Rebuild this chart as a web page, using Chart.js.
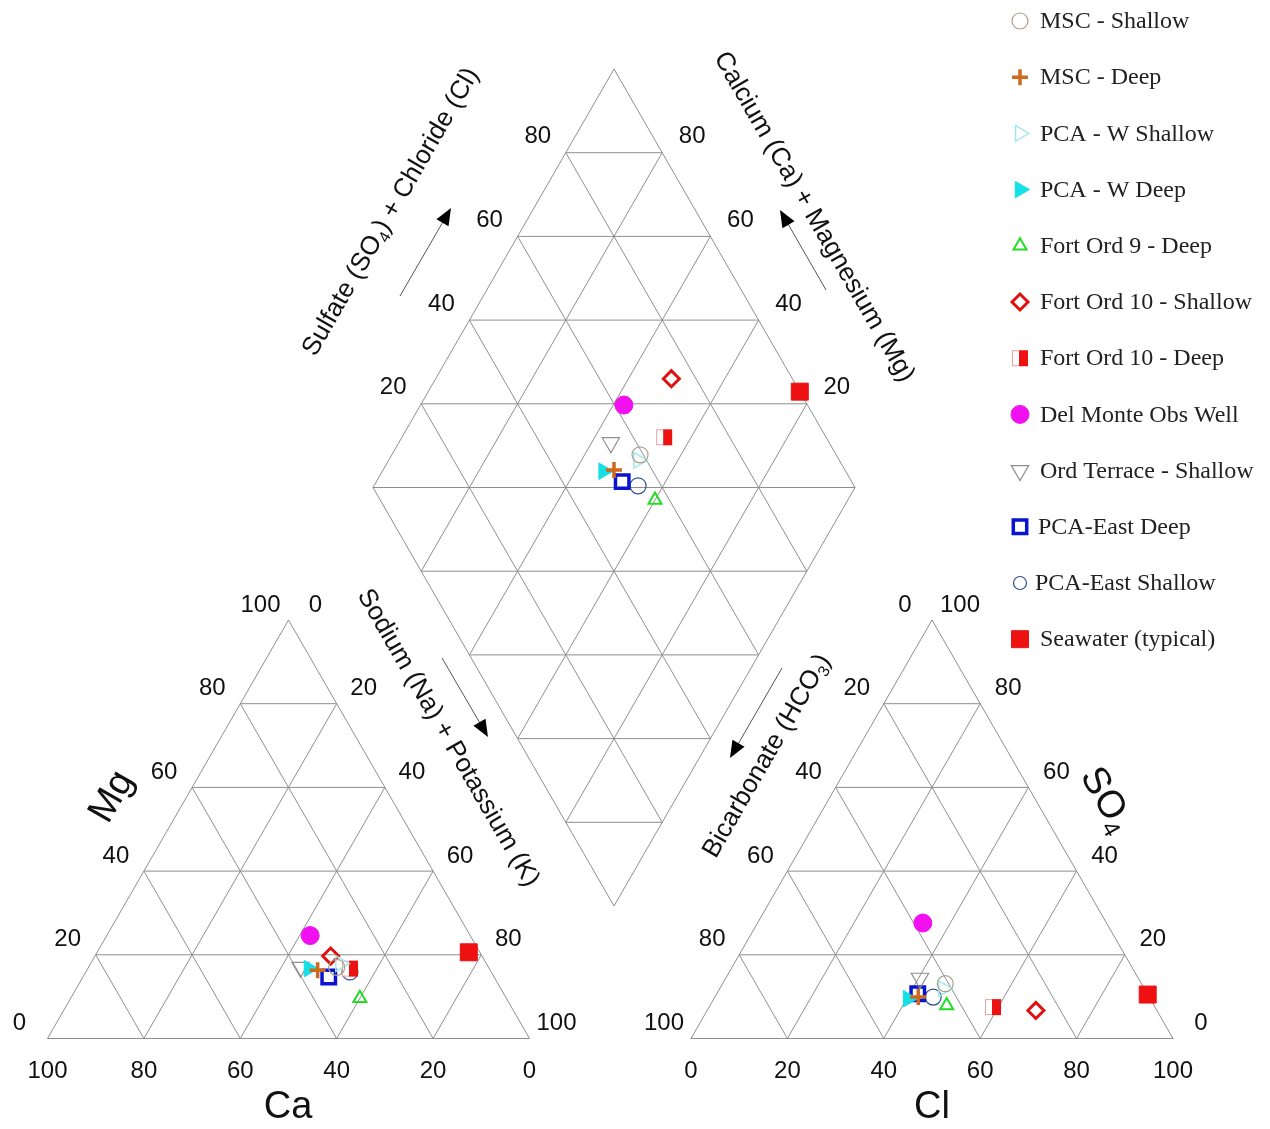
<!DOCTYPE html>
<html>
<head>
<meta charset="utf-8">
<title>Piper diagram</title>
<script src="https://cdn.jsdelivr.net/npm/chart.js@4.4.0/dist/chart.umd.min.js"></script>
<style>
  html, body { margin: 0; padding: 0; background: #fff; overflow: hidden; }
  canvas { display: block; }
</style>
</head>
<body>
<canvas id="piperChart" width="1270" height="1129"></canvas>
<script>
// samples, in legend order
const seriesNames = ['MSC - Shallow', 'MSC - Deep', 'PCA - W Shallow', 'PCA - W Deep',
    'Fort Ord 9 - Deep', 'Fort Ord 10 - Shallow', 'Fort Ord 10 - Deep', 'Del Monte Obs Well',
    'Ord Terrace - Shallow', 'PCA-East Deep', 'PCA-East Shallow', 'Seawater (typical)'];

// cations, % meq
const caPct   = [31.5, 35.8, 30.3, 37.4, 30.4, 31.4, 28.9, 33.2, 39.0, 34.3, 29.3,  2.3];
const mgPct   = [17.0, 16.3, 17.9, 16.7,  9.6, 19.7, 16.7, 24.6, 17.0, 14.7, 15.9, 20.6];
const naKPct  = [51.5, 47.9, 51.8, 45.9, 60.0, 48.9, 54.4, 42.2, 44.0, 51.0, 54.8, 77.1];
// anions, % meq
const hco3Pct = [40.7, 47.9, 41.7, 50.2, 43.0, 25.1, 33.6, 38.1, 45.3, 47.6, 44.8,  0.0];
const so4Pct  = [13.1,  9.9, 11.9,  9.5,  7.9,  6.7,  7.5, 27.6, 14.4, 10.7,  9.9, 10.5];
const clPct   = [46.2, 42.2, 46.4, 40.3, 49.1, 68.2, 58.9, 34.3, 40.3, 41.7, 45.3, 89.5];

const gridTicks = [20, 40, 60, 80];
const tickLabels = [0, 20, 40, 60, 80, 100];

// layout of the three panels (canvas px)
const SIDE = 482;
const HGT = 418.5;
const CAT0 = { x: 47.5, y: 1038.5 };
const AN0 = { x: 691, y: 1038.5 };
const DIA0 = { x: 614, y: 906 };

function catPos(ca, mg, na) {
    return { x: CAT0.x + (na + mg / 2) / 100 * SIDE, y: CAT0.y - mg / 100 * HGT };
}
function anPos(hco3, so4, cl) {
    return { x: AN0.x + (cl + so4 / 2) / 100 * SIDE, y: AN0.y - so4 / 100 * HGT };
}
function diaPos(caMg, so4Cl) {
    const u = caMg / 100, v = so4Cl / 100;
    return { x: DIA0.x + (v - u) * SIDE / 2, y: DIA0.y - (u + v) * HGT };
}

function halfSquare() {
    const c = document.createElement('canvas');
    c.width = 18; c.height = 18;
    const g = c.getContext('2d');
    g.fillStyle = '#fff';
    g.fillRect(1, 1, 16, 16);
    g.strokeStyle = '#e9a0a0';
    g.lineWidth = 1;
    g.strokeRect(1.5, 1.5, 15, 15);
    g.fillStyle = '#ee1111';
    g.fillRect(8, 1, 9, 16);
    return c;
}

const markerStyles = [
    { pointStyle: 'circle', radius: 8, rotation: 0, borderColor: '#ab9f8c', backgroundColor: 'rgba(0,0,0,0)', borderWidth: 1.2 },
    { pointStyle: 'cross', radius: 8, rotation: 0, borderColor: '#cf6a1c', backgroundColor: '#cf6a1c', borderWidth: 3.5 },
    { pointStyle: 'triangle', radius: 9, rotation: 90, borderColor: '#a6e8ea', backgroundColor: 'rgba(0,0,0,0)', borderWidth: 1.5 },
    { pointStyle: 'triangle', radius: 9.5, rotation: 90, borderColor: '#16dfe6', backgroundColor: '#16dfe6', borderWidth: 1 },
    { pointStyle: 'triangle', radius: 7.5, rotation: 0, borderColor: '#22dd22', backgroundColor: 'rgba(0,0,0,0)', borderWidth: 2 },
    { pointStyle: 'rectRot', radius: 8, rotation: 0, borderColor: '#e01010', backgroundColor: 'rgba(0,0,0,0)', borderWidth: 3 },
    { pointStyle: halfSquare(), radius: 9, rotation: 0, borderColor: '#ee1111', backgroundColor: '#ee1111', borderWidth: 1 },
    { pointStyle: 'circle', radius: 9, rotation: 0, borderColor: '#f010f0', backgroundColor: '#f010f0', borderWidth: 1 },
    { pointStyle: 'triangle', radius: 10, rotation: 180, borderColor: '#909090', backgroundColor: 'rgba(0,0,0,0)', borderWidth: 1.2 },
    { pointStyle: 'rect', radius: 9.5, rotation: 0, borderColor: '#0a14d0', backgroundColor: 'rgba(0,0,0,0)', borderWidth: 3.5 },
    { pointStyle: 'circle', radius: 8, rotation: 0, borderColor: '#34508e', backgroundColor: 'rgba(0,0,0,0)', borderWidth: 1.2 },
    { pointStyle: 'rect', radius: 12, rotation: 0, borderColor: '#ee1111', backgroundColor: '#ee1111', borderWidth: 1 }
];

const markerDatasets = seriesNames.map(function(name, i) {
    const s = markerStyles[i];
    return {
        label: name,
        data: [
            catPos(caPct[i], mgPct[i], naKPct[i]),
            anPos(hco3Pct[i], so4Pct[i], clPct[i]),
            diaPos(caPct[i] + mgPct[i], so4Pct[i] + clPct[i])
        ],
        pointStyle: s.pointStyle,
        pointRadius: s.radius,
        pointRotation: s.rotation,
        borderColor: s.borderColor,
        backgroundColor: s.backgroundColor,
        pointBorderWidth: s.borderWidth,
        showLine: false,
        order: i
    };
});

// grid lines, one dataset per panel, NaN breaks between segments
function segments(pairs) {
    const pts = [];
    pairs.forEach(function(p) {
        pts.push(p[0], p[1], { x: NaN, y: NaN });
    });
    return pts;
}

const catLines = [], anLines = [], diaLines = [];
catLines.push([catPos(100, 0, 0), catPos(0, 0, 100)], [catPos(0, 0, 100), catPos(0, 100, 0)], [catPos(0, 100, 0), catPos(100, 0, 0)]);
anLines.push([anPos(100, 0, 0), anPos(0, 0, 100)], [anPos(0, 0, 100), anPos(0, 100, 0)], [anPos(0, 100, 0), anPos(100, 0, 0)]);
diaLines.push([diaPos(0, 0), diaPos(100, 0)], [diaPos(100, 0), diaPos(100, 100)], [diaPos(100, 100), diaPos(0, 100)], [diaPos(0, 100), diaPos(0, 0)]);
gridTicks.forEach(function(t) {
    catLines.push([catPos(100 - t, t, 0), catPos(0, t, 100 - t)]);
    catLines.push([catPos(100 - t, 0, t), catPos(0, 100 - t, t)]);
    catLines.push([catPos(t, 0, 100 - t), catPos(t, 100 - t, 0)]);
    anLines.push([anPos(100 - t, t, 0), anPos(0, t, 100 - t)]);
    anLines.push([anPos(100 - t, 0, t), anPos(0, 100 - t, t)]);
    anLines.push([anPos(t, 0, 100 - t), anPos(t, 100 - t, 0)]);
    diaLines.push([diaPos(t, 0), diaPos(t, 100)]);
    diaLines.push([diaPos(0, t), diaPos(100, t)]);
});
[20, 40, 60, 80, 100, 120, 140, 160, 180].forEach(function(s) {
    if (s <= 100) diaLines.push([diaPos(s, 0), diaPos(0, s)]);
    else diaLines.push([diaPos(100, s - 100), diaPos(s - 100, 100)]);
});

const gridDatasets = [catLines, anLines, diaLines].map(function(lines) {
    return {
        label: 'grid',
        data: segments(lines),
        showLine: true,
        spanGaps: false,
        borderColor: '#8e8e8e',
        borderWidth: 1,
        pointRadius: 0,
        order: 100
    };
});

const SANS = '"Liberation Sans", Arial, sans-serif';

function drawRich(ctx, parts, cx, cy, angle, size) {
    ctx.save();
    ctx.translate(cx, cy);
    ctx.rotate(angle * Math.PI / 180);
    ctx.textAlign = 'left';
    ctx.textBaseline = 'middle';
    let total = 0;
    parts.forEach(function(p) {
        ctx.font = (p.sub ? Math.round(size * 0.62) : size) + 'px ' + SANS;
        p.w = ctx.measureText(p.t).width;
        total += p.w;
    });
    let x = -total / 2;
    parts.forEach(function(p) {
        ctx.font = (p.sub ? Math.round(size * 0.62) : size) + 'px ' + SANS;
        ctx.fillText(p.t, x, p.sub ? size * 0.3 : 0);
        x += p.w;
    });
    ctx.restore();
}

function drawArrow(ctx, x0, y0, x1, y1) {
    const a = Math.atan2(y1 - y0, x1 - x0);
    ctx.save();
    ctx.strokeStyle = '#555';
    ctx.lineWidth = 1;
    ctx.beginPath();
    ctx.moveTo(x0, y0);
    ctx.lineTo(x1 - 10 * Math.cos(a), y1 - 10 * Math.sin(a));
    ctx.stroke();
    ctx.fillStyle = '#000';
    ctx.beginPath();
    ctx.moveTo(x1, y1);
    ctx.lineTo(x1 - 17 * Math.cos(a) + 7 * Math.sin(a), y1 - 17 * Math.sin(a) - 7 * Math.cos(a));
    ctx.lineTo(x1 - 17 * Math.cos(a) - 7 * Math.sin(a), y1 - 17 * Math.sin(a) + 7 * Math.cos(a));
    ctx.closePath();
    ctx.fill();
    ctx.restore();
}

const piperLabels = {
    id: 'piperLabels',
    afterDraw: function(chart) {
        const ctx = chart.ctx;
        ctx.save();
        ctx.fillStyle = '#111';
        ctx.font = '24px ' + SANS;
        ctx.textAlign = 'center';
        ctx.textBaseline = 'middle';
        function put(txt, p, dx, dy) { ctx.fillText(String(txt), p.x + dx, p.y + dy); }

        tickLabels.forEach(function(t) {
            put(t, catPos(100 - t, t, 0), -28, -15);
            put(t, catPos(0, 100 - t, t), 27, -15);
            put(t, catPos(t, 0, 100 - t), 0, 33);
            put(t, anPos(t, 100 - t, 0), -27, -15);
            put(t, anPos(0, t, 100 - t), 28, -15);
            put(t, anPos(100 - t, 0, t), 0, 33);
        });
        gridTicks.forEach(function(t) {
            put(t, diaPos(100, t), -28, -16);
            put(t, diaPos(t, 100), 30, -16);
        });

        ctx.font = '38px ' + SANS;
        ctx.fillText('Ca', 288, 1108);
        ctx.fillText('Cl', 932, 1108);
        drawRich(ctx, [{ t: 'Mg' }], 112, 797, -60, 38);
        drawRich(ctx, [{ t: 'SO' }, { t: '4', sub: true }], 1106, 800, 60, 38);

        drawRich(ctx, [{ t: 'Sulfate (SO' }, { t: '4', sub: true }, { t: ') + Chloride (Cl)' }], 391, 212, -60, 26);
        drawRich(ctx, [{ t: 'Calcium (Ca) + Magnesium (Mg)' }], 814, 217, 60, 26);
        drawRich(ctx, [{ t: 'Sodium (Na) + Potassium (K)' }], 448, 738, 60, 26);
        drawRich(ctx, [{ t: 'Bicarbonate (HCO' }, { t: '3', sub: true }, { t: ')' }], 767, 756, -60, 26);

        drawArrow(ctx, 400, 296, 451, 208);
        drawArrow(ctx, 826, 290, 780, 210);
        drawArrow(ctx, 442, 658, 488, 737);
        drawArrow(ctx, 782, 668, 730, 758);

        // legend
        const textX = [1040, 1040, 1040, 1040, 1040, 1040, 1040, 1040, 1040, 1038, 1035, 1040];
        seriesNames.forEach(function(name, i) {
            const s = markerStyles[i];
            const y = 21 + i * 56.2;
            ctx.save();
            ctx.fillStyle = s.backgroundColor;
            ctx.strokeStyle = s.borderColor;
            ctx.lineWidth = s.borderWidth;
            Chart.helpers.drawPoint(ctx, {
                pointStyle: s.pointStyle,
                rotation: s.rotation,
                radius: i === 10 ? 6.5 : s.radius,
                borderWidth: s.borderWidth
            }, 1020, y);
            ctx.restore();
            ctx.fillStyle = '#222';
            ctx.font = '24px "Liberation Serif", "Times New Roman", serif';
            ctx.textAlign = 'left';
            ctx.textBaseline = 'middle';
            ctx.fillText(name, textX[i], y + 1);
        });
        ctx.restore();
    }
};

document.addEventListener('DOMContentLoaded', function() {
    const ctx = document.getElementById('piperChart').getContext('2d');
    new Chart(ctx, {
        type: 'scatter',
        data: { datasets: markerDatasets.concat(gridDatasets) },
        options: {
            responsive: false,
            animation: false,
            devicePixelRatio: 1,
            events: [],
            layout: { padding: 0, autoPadding: false },
            scales: {
                x: { type: 'linear', min: 0, max: 1270, display: false },
                y: { type: 'linear', min: 0, max: 1129, reverse: true, display: false }
            },
            plugins: {
                legend: { display: false },
                tooltip: { enabled: false }
            }
        },
        plugins: [piperLabels]
    });
});
</script>
</body>
</html>
